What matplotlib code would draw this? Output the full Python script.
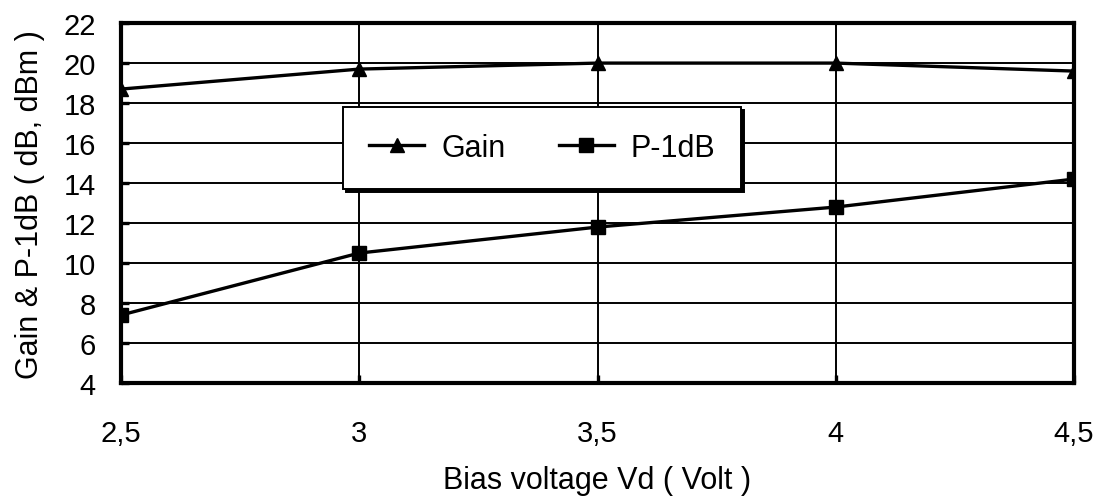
import matplotlib.pyplot as plt
from matplotlib.ticker import FuncFormatter

plt.rcParams['font.family'] = ['Liberation Sans', 'DejaVu Sans']

# bias voltage Vd (V)
vd = [2.5, 3.0, 3.5, 4.0, 4.5]
gain = [18.7, 19.7, 20.0, 20.0, 19.6]
p1db = [7.4, 10.5, 11.8, 12.8, 14.2]
y_ticks = [4, 6, 8, 10, 12, 14, 16, 18, 20, 22]

fig = plt.figure(figsize=(10.98, 5.02), dpi=100)
ax = fig.add_axes([0.1102, 0.235, 0.868, 0.717])

ax.plot(vd, gain, color='black', lw=2.4, marker='^', ms=10, label='Gain', zorder=3)
ax.plot(vd, p1db, color='black', lw=2.4, marker='s', ms=9.5, label='P-1dB', zorder=3)

ax.set_xlim(2.5, 4.5)
ax.set_ylim(4, 22)
ax.set_xticks(vd)
ax.set_yticks(y_ticks)
ax.xaxis.set_major_formatter(FuncFormatter(lambda v, p: ('%g' % v).replace('.', ',')))
ax.grid(True, color='black', lw=1.4)
ax.set_axisbelow(True)

for s in ax.spines.values():
    s.set_linewidth(3)
ax.tick_params(direction='in', length=6, width=2.4, labelsize=21)
ax.tick_params(axis='x', pad=26)
ax.tick_params(axis='y', pad=18)

ax.set_xlabel('Bias voltage Vd ( Volt )', fontsize=22, labelpad=13)
ax.set_ylabel('Gain & P-1dB ( dB, dBm )', fontsize=22, labelpad=13)

leg = ax.legend(loc='center', bbox_to_anchor=(0.442, 0.653), ncol=2, fontsize=22,
                frameon=True, fancybox=False, shadow={'color': 'black', 'alpha': 1},
                handlelength=1.8, handletextpad=0.55, columnspacing=1.75,
                borderpad=0.85, framealpha=1, borderaxespad=0)
leg.get_frame().set_edgecolor('black')
leg.get_frame().set_linewidth(1.4)

fig.savefig('out.png', dpi=100)
